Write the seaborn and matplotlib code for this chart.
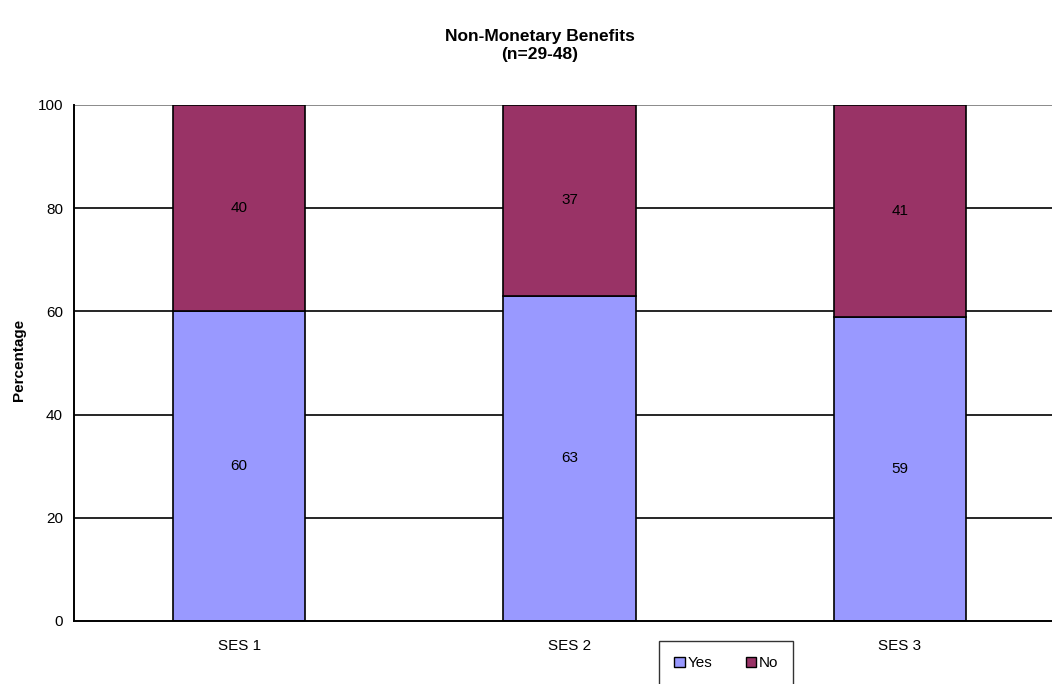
import matplotlib
matplotlib.use("Agg")
import matplotlib.pyplot as plt
import seaborn as sns
import pandas as pd
from matplotlib.patches import Patch

categories = ["SES 1", "SES 2", "SES 3"]
yes_values = [60, 63, 59]
no_values = [40, 37, 41]
series_names = ["Yes", "No"]
yticks = [0, 20, 40, 60, 80, 100]

sns.set_theme(style="white")
plt.rcParams["font.family"] = ["Liberation Sans", "DejaVu Sans"]
plt.rcParams["text.color"] = "black"
plt.rcParams["xtick.color"] = "black"
plt.rcParams["ytick.color"] = "black"
plt.rcParams["axes.labelcolor"] = "black"

yes_color = "#9999FF"
no_color = "#993366"
fs = 11

df = pd.DataFrame({"cat": categories, "Yes": yes_values, "No": no_values})

fig = plt.figure(figsize=(10.52, 6.84), dpi=100)
ax = fig.add_axes([74 / 1052, 1 - 621 / 684, 991 / 1052, 516 / 684])

sns.barplot(data=df, x="cat", y="Yes", color=yes_color, width=0.4,
            edgecolor="black", linewidth=1.2, saturation=1, ax=ax, zorder=3)
sns.barplot(data=df, x="cat", y="No", color=no_color, width=0.4,
            bottom=df["Yes"], edgecolor="black", linewidth=1.2, saturation=1,
            ax=ax, zorder=3)

for i, (y, n) in enumerate(zip(yes_values, no_values)):
    ax.text(i, y / 2, str(y), ha="center", va="center", fontsize=fs, zorder=4)
    ax.text(i, y + n / 2, str(n), ha="center", va="center", fontsize=fs, zorder=4)

ax.set_xlim(-0.5, 2.5)
ax.set_ylim(0, 100)
ax.set_yticks(yticks)
ax.set_yticklabels([str(t) for t in yticks], fontsize=fs)

# gridlines: top one grey, others black
for t in yticks[1:]:
    ax.axhline(t, color="#777777" if t == 100 else "black", linewidth=1.2, zorder=1)

ax.set_xticks([0, 1, 2])
ax.set_xticklabels(categories, fontsize=fs)
ax.tick_params(axis="x", length=0, pad=13)
ax.set_xticks([0.5, 1.5], minor=True)
ax.tick_params(axis="x", which="minor", length=5, width=1.2, color="black", direction="out")
ax.tick_params(axis="y", length=5, width=1.2, color="black", direction="out", pad=3)

for side in ["top", "right"]:
    ax.spines[side].set_visible(False)
for side in ["left", "bottom"]:
    ax.spines[side].set_color("black")
    ax.spines[side].set_linewidth(1.4)
ax.spines["bottom"].set_zorder(5)

ax.set_xlabel("")
ax.set_ylabel("")
fig.text(19 / 1052, 1 - 360 / 684, "Percentage", rotation=90, ha="center",
         va="center", fontsize=fs, fontweight="bold")

fig.text(540 / 1052, 1 - 37 / 684, "Non-Monetary Benefits", ha="center",
         va="center", fontsize=12.5, fontweight="bold")
fig.text(540 / 1052, 1 - 54 / 684, "(n=29-48)", ha="center",
         va="center", fontsize=12.5, fontweight="bold")

handles = [Patch(facecolor=yes_color, edgecolor="black", linewidth=1),
           Patch(facecolor=no_color, edgecolor="black", linewidth=1)]
leg = fig.legend(handles, series_names, loc="upper left",
                 bbox_to_anchor=(659 / 1052, 1 - 641 / 684), ncol=2,
                 fontsize=fs, frameon=True, fancybox=False, handlelength=0.7,
                 handleheight=0.7, handletextpad=0.15, columnspacing=2.2,
                 borderpad=1.0, borderaxespad=0)
leg.get_frame().set_edgecolor("black")
leg.get_frame().set_linewidth(1)

fig.savefig("out.png", dpi=100)
